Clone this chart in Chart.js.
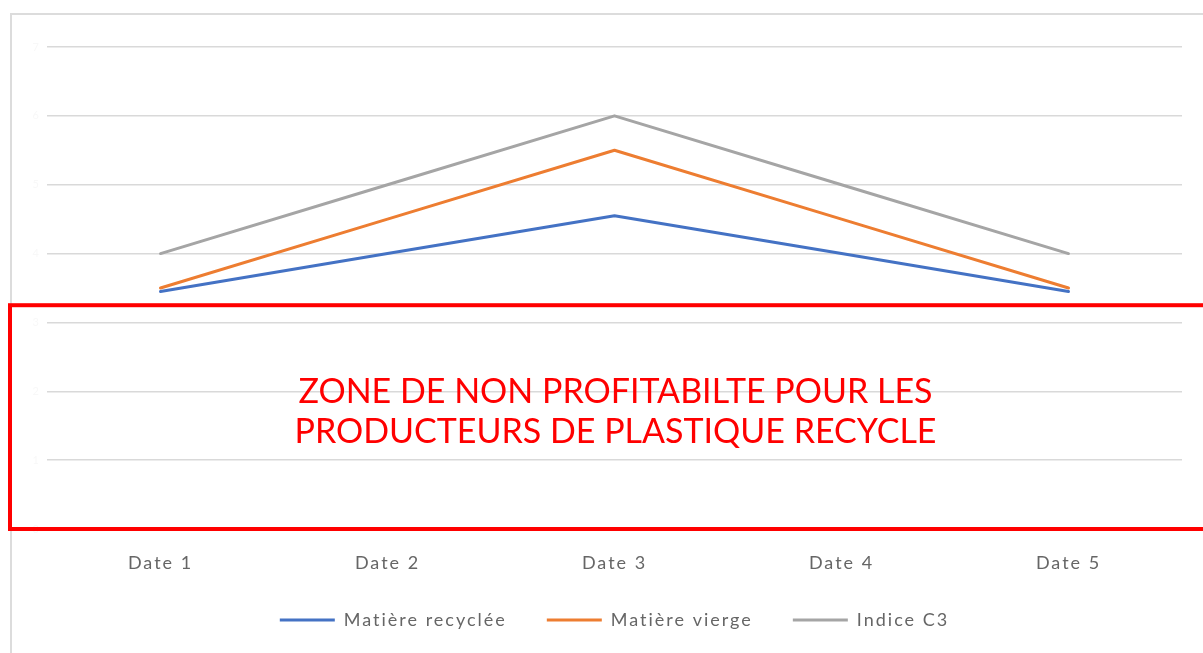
<!DOCTYPE html>
<html lang="fr">
<head>
<meta charset="utf-8">
<title>Matière recyclée / vierge / Indice C3</title>
<script src="https://cdn.jsdelivr.net/npm/chart.js@4.4.1/dist/chart.umd.min.js"></script>
<style>
  html, body { margin: 0; padding: 0; background: #fff; }
  #wrap { position: relative; width: 1203px; height: 653px; overflow: hidden; }
  canvas { display: block; }
</style>
</head>
<body>
<div id="wrap"><canvas id="chart" width="1203" height="653"></canvas></div>
<script>
// ─── Data ─────────────────────────────────────────────────
const dates     = ['Date 1', 'Date 2', 'Date 3', 'Date 4', 'Date 5'];
const recyclee  = [3.45, 4.0, 4.55, 4.0, 3.45];
const vierge    = [3.5, 4.5, 5.5, 4.5, 3.5];
const indiceC3  = [4.0, 5.0, 6.0, 5.0, 4.0];
const yTicks    = [0, 1, 2, 3, 4, 5, 6, 7];

// Zone where recycled plastic producers lose money (value range on y)
const zoneFrom  = 0;
const zoneTo    = 3.25;
const zoneText  = ['ZONE DE NON PROFITABILTE POUR LES', 'PRODUCTEURS DE PLASTIQUE RECYCLE'];

// ─── Styles ───────────────────────────────────────────────
const BLUE   = '#4472C4';
const ORANGE = '#ED7D31';
const GREY   = '#A5A5A5';
const TEXT   = '#666666';
const FONT   = "Lato, 'Open Sans', sans-serif";

function setSpacing(ctx) {
    if ('letterSpacing' in ctx) ctx.letterSpacing = '2px';
}

// Outer frame + spaced text
const framePlugin = {
    id: 'frame',
    beforeUpdate(chart) { setSpacing(chart.ctx); },
    beforeDraw(chart) {
        const ctx = chart.ctx;
        setSpacing(ctx);
        ctx.save();
        ctx.strokeStyle = '#dcdcdc';
        ctx.lineWidth = 2;
        ctx.beginPath();
        ctx.moveTo(11, chart.height);
        ctx.lineTo(11, 14);
        ctx.lineTo(chart.width, 14);
        ctx.stroke();
        ctx.restore();
    }
};

// Red box + caption drawn over the plot
const zonePlugin = {
    id: 'zone',
    afterDraw(chart) {
        const ctx = chart.ctx;
        const y = chart.scales.y;
        const top = y.getPixelForValue(zoneTo);
        const bottom = y.getPixelForValue(zoneFrom);
        const area = chart.chartArea;
        ctx.save();
        ctx.strokeStyle = '#ff0000';
        ctx.lineWidth = 4;
        ctx.strokeRect(10, top, chart.width + 20, bottom - top);

        ctx.fillStyle = '#ff0000';
        ctx.font = '34px ' + FONT;
        if ('letterSpacing' in ctx) ctx.letterSpacing = '0px';
        ctx.textAlign = 'center';
        ctx.textBaseline = 'alphabetic';
        const cx = (area.left + area.right) / 2 + 1;
        const mid = (top + bottom) / 2;
        ctx.fillText(zoneText[0], cx, mid - 14);
        ctx.fillText(zoneText[1], cx, mid + 26);
        ctx.restore();
    }
};

function series(label, data, color) {
    return {
        label, data,
        borderColor: color,
        backgroundColor: color,
        borderWidth: 3,
        pointRadius: 0,
        tension: 0,
        borderCapStyle: 'round',
        borderJoinStyle: 'round',
    };
}

new Chart(document.getElementById('chart'), {
    type: 'line',
    data: {
        labels: dates,
        datasets: [
            series('Matière recyclée', recyclee, BLUE),
            series('Matière vierge', vierge, ORANGE),
            series('Indice C3', indiceC3, GREY),
        ]
    },
    plugins: [framePlugin, zonePlugin],
    options: {
        responsive: false,
        animation: false,
        devicePixelRatio: 1,
        layout: { padding: { top: 47, left: 10, right: 21, bottom: 14 } },
        scales: {
            x: {
                offset: true,
                grid: { display: false, drawTicks: false },
                border: { display: false },
                ticks: { color: TEXT, font: { family: FONT, size: 18 }, padding: 23 },
                afterFit(scale) { scale.height = 42; }
            },
            y: {
                min: yTicks[0],
                max: yTicks[yTicks.length - 1],
                afterBuildTicks(scale) { scale.ticks = yTicks.map(v => ({ value: v })); },
                grid: { color: '#d9d9d9', lineWidth: 1.5, drawTicks: false },
                border: { display: false },
                ticks: { color: '#f8f8f8', font: { family: FONT, size: 11 }, padding: 6 },
                afterFit(scale) { scale.width = 37; }
            }
        },
        plugins: {
            tooltip: { enabled: false },
            legend: {
                position: 'bottom',
                fullSize: false,
                labels: {
                    color: TEXT,
                    font: { family: FONT, size: 18 },
                    boxWidth: 55,
                    boxHeight: 3,
                    padding: 40,
                    generateLabels: chart =>
                        Chart.defaults.plugins.legend.labels.generateLabels(chart)
                            .map(item => ({ ...item, lineWidth: 0 }))
                }
            }
        }
    }
});
</script>
</body>
</html>
